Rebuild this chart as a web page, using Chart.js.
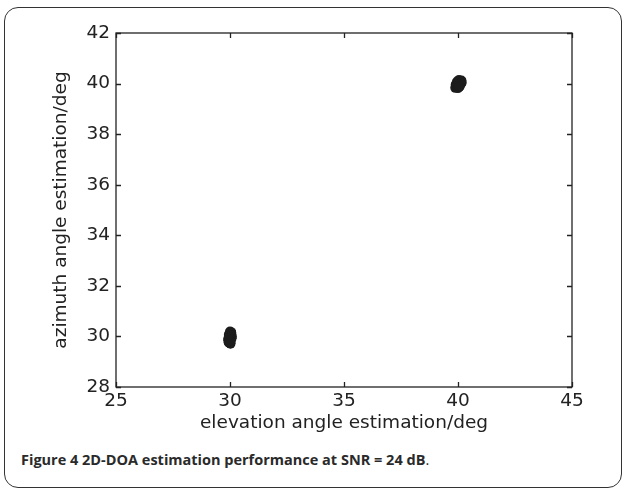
<!DOCTYPE html>
<html>
<head>
<meta charset="utf-8">
<script src="https://cdn.jsdelivr.net/npm/chart.js@4/dist/chart.umd.min.js"></script>
<style>
    body { margin: 0; background: #fff; }
    #wrap { position: relative; width: 624px; height: 490px; overflow: hidden; }
    #frame {
        position: absolute; left: 4px; top: 7px; width: 616px; height: 479px;
        border: 1.8px solid #333; border-radius: 14px;
    }
    #plot { position: absolute; left: 0; top: 0; }
    #caption {
        position: absolute; left: 21px; top: 450px;
        font-family: "Open Sans", sans-serif; font-size: 14.5px; color: #2a2a2a;
    }
    #caption b { font-weight: 700; }
</style>
</head>
<body>
<div id="wrap">
    <div id="frame"></div>
    <canvas id="plot" width="624" height="440"></canvas>
    <div id="caption"><b>Figure 4 2D-DOA estimation performance at SNR = 24 dB</b>.</div>
</div>
<script>
// estimates for the source near (30, 30)
const elevationA = [30.00, 29.96, 30.04, 30.06, 29.94, 30.08, 29.92, 30.02, 30.05, 29.97, 30.07, 29.93, 30.00, 30.03, 29.95, 30.01];
const azimuthA   = [29.95, 29.75, 30.15, 30.10, 29.77, 30.00, 29.90, 29.71, 30.17, 30.05, 29.93, 29.85, 30.19, 29.80, 30.07, 29.73];
// estimates for the source near (40, 40)
const elevationB = [40.02, 40.10, 40.15, 39.92, 39.88, 40.08, 39.96, 40.14, 39.90, 40.04, 40.00, 40.16, 39.95, 40.06];
const azimuthB   = [39.98, 40.10, 40.12, 39.86, 39.83, 39.90, 40.08, 40.00, 39.96, 40.14, 39.82, 40.04, 40.02, 39.88];
const xTicks = [25, 30, 35, 40, 45];
const yTicks = [28, 30, 32, 34, 36, 38, 40, 42];

const toPoints = (xs, ys) => xs.map((x, i) => ({ x: x, y: ys[i] }));
const tickFont = { family: 'DejaVu Sans', size: 18.5 };

// MATLAB-style box with inward ticks on all four sides
const boxPlugin = {
    id: 'box',
    afterDraw(chart) {
        const { ctx, chartArea: a, scales } = chart;
        const len = 5;
        ctx.save();
        ctx.strokeStyle = '#222';
        ctx.lineWidth = 1.3;
        ctx.strokeRect(a.left, a.top, a.right - a.left, a.bottom - a.top);
        ctx.beginPath();
        xTicks.forEach(v => {
            const px = Math.round(scales.x.getPixelForValue(v)) + 0.5;
            ctx.moveTo(px, a.bottom); ctx.lineTo(px, a.bottom - len);
            ctx.moveTo(px, a.top); ctx.lineTo(px, a.top + len);
        });
        yTicks.forEach(v => {
            const py = Math.round(scales.y.getPixelForValue(v)) + 0.5;
            ctx.moveTo(a.left, py); ctx.lineTo(a.left + len, py);
            ctx.moveTo(a.right, py); ctx.lineTo(a.right - len, py);
        });
        ctx.stroke();
        ctx.restore();
    }
};

new Chart(document.getElementById('plot').getContext('2d'), {
    type: 'scatter',
    data: {
        datasets: [
            { data: toPoints(elevationA, azimuthA) },
            { data: toPoints(elevationB, azimuthB) }
        ]
    },
    options: {
        responsive: false,
        animation: false,
        layout: { padding: { left: 0, top: 33, right: 52, bottom: 0 } },
        elements: {
            point: { radius: 5, backgroundColor: '#1c1c1c', borderWidth: 0 }
        },
        plugins: { legend: { display: false }, tooltip: { enabled: false } },
        scales: {
            x: {
                type: 'linear', min: 25, max: 45,
                afterBuildTicks: s => { s.ticks = xTicks.map(v => ({ value: v })); },
                afterFit: s => { s.height = 53; },
                grid: { display: false, drawTicks: false, tickLength: 0 },
                border: { display: false },
                ticks: { font: tickFont, color: '#222', padding: 3, maxRotation: 0 },
                title: {
                    display: true, text: 'elevation angle estimation/deg',
                    font: tickFont, color: '#222', padding: { top: 0, bottom: 6 }
                }
            },
            y: {
                type: 'linear', min: 28, max: 42,
                afterBuildTicks: s => { s.ticks = yTicks.map(v => ({ value: v })); },
                afterFit: s => { s.width = 116; },
                grid: { display: false, drawTicks: false, tickLength: 0 },
                border: { display: false },
                ticks: { font: tickFont, color: '#222', padding: 6 },
                title: {
                    display: true, text: 'azimuth angle estimation/deg',
                    font: tickFont, color: '#222', padding: { top: 50, bottom: 0 }
                }
            }
        }
    },
    plugins: [boxPlugin]
});
</script>
</body>
</html>
